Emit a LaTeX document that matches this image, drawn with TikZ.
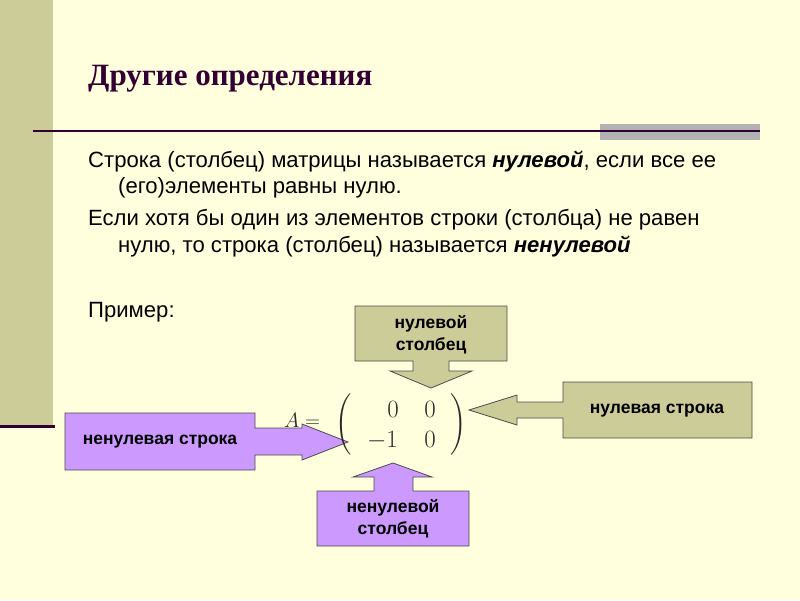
\documentclass[tikz,border=0pt]{standalone}
\usepackage{fontspec}
\usepackage{graphicx}
\setmainfont{Liberation Sans}
\newfontfamily\titlefont{Liberation Serif}
\definecolor{bg}{HTML}{FFFFDD}
\definecolor{olive}{HTML}{CCCC99}
\definecolor{lilac}{HTML}{CC99FF}
\definecolor{plum}{HTML}{330033}
\definecolor{bar}{HTML}{B2B2B2}
\definecolor{mtext}{HTML}{2A2A2A}
\tikzset{
  body/.style={anchor=base west, inner sep=0pt, font=\fontsize{22.1}{26}\selectfont, text=black},
  callout/.style={draw=black!70, line width=0.8pt},
  boxtext/.style={align=center, inner sep=0pt, font=\fontsize{17.5}{22}\selectfont\bfseries, text=black},
  ment/.style={inner sep=0pt, anchor=base, text=mtext, font=\fontsize{26}{30}\selectfont},
  paren/.style={inner sep=0pt, text=mtext, font=\fontsize{10}{12}\selectfont}
}
\begin{document}
\begin{tikzpicture}[x=1pt,y=-1pt]
\useasboundingbox (0,0) rectangle (800,600);
\fill[bg] (0,0) rectangle (800,600);
\fill[olive] (0,0) rectangle (53,425);
\draw[plum, line width=3pt] (0,426) -- (55,426);
\fill[bar] (600,124) rectangle (760,140);
\draw[plum, line width=1.6pt] (33,131) -- (760,131);

\node[anchor=base west, inner sep=0pt, font=\titlefont\fontsize{31}{35}\selectfont\bfseries, text=plum] (title) at (88,85) {Другие определения};

\node[body] (l1) at (88,167) {Строка (столбец) матрицы называется \textbf{\textit{нулевой}}, если все ее};
\node[body] (l2) at (118,193) {(его)элементы равны нулю.};
\node[body] (l3) at (88,225) {Если хотя бы один из элементов строки (столбца) не равен};
\node[body] (l4) at (118,252) {нулю, то строка (столбец) называется \textbf{\textit{ненулевой}}};
\node[body] (l5) at (88,317) {Пример:};

% top callout (olive)
\filldraw[callout, fill=olive] (355,306) -- (507,306) -- (507,361) -- (449,361) -- (449,371) -- (472,371) -- (431,388) -- (390,371) -- (413,371) -- (413,361) -- (355,361) -- cycle;
\node[boxtext] (zc) at (431,335) {нулевой\\столбец};

% right callout (olive)
\filldraw[callout, fill=olive] (563,382) -- (752,382) -- (752,438) -- (563,438) -- (563,418) -- (517,418) -- (517,425) -- (469,410) -- (517,395) -- (517,402) -- (563,402) -- cycle;
\node[boxtext] (zr) at (657,411) {нулевая строка};

% left callout (lilac)
\filldraw[callout, fill=lilac] (65,413) -- (255,413) -- (255,428) -- (302,428) -- (302,424) -- (348,442) -- (302,460) -- (302,455) -- (255,455) -- (255,470) -- (65,470) -- cycle;
\node[boxtext] (nr) at (160,442) {ненулевая строка};

% bottom callout (lilac)
\filldraw[callout, fill=lilac] (317,491) -- (374,491) -- (374,477) -- (353,477) -- (393,463) -- (432,477) -- (413,477) -- (413,491) -- (469,491) -- (469,546) -- (317,546) -- cycle;
\node[boxtext] (nc) at (393,519) {ненулевой\\столбец};

% matrix
\node[inner sep=0pt, text=mtext, font=\fontsize{22}{26}\selectfont] (ma) at (302,420) {$A=$};
\node[paren] (lp) at (344,424) {\scalebox{2.05}{$\Bigg($}};
\node[paren] (rp) at (459,424) {\scalebox{2.05}{$\Bigg)$}};
\node[ment] (m11) at (393,417) {$0$};
\node[ment] (m12) at (430,417) {$0$};
\node[ment, anchor=base east] (m21) at (398,447) {$-1$};
\node[ment] (m22) at (430,447) {$0$};
\end{tikzpicture}
\end{document}
